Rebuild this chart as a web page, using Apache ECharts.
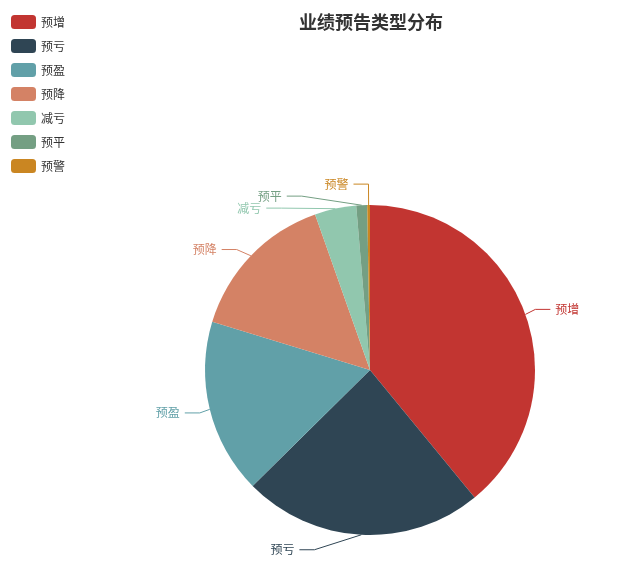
<!DOCTYPE html>
<html>
<head>
<meta charset="utf-8">
<script src="https://cdn.jsdelivr.net/npm/echarts@6/dist/echarts.min.js"></script>
<style>
html,body{margin:0;padding:0;background:#fff;}
#main{width:643px;height:580px;}
</style>
</head>
<body>
<div id="main"></div>
<script>
var categories = ['预增', '预亏', '预盈', '预降', '减亏', '预平', '预警'];
var values = [586, 353, 257, 223, 61, 16, 4];
var colors = ['#c23531', '#2f4554', '#61a0a8', '#d48265', '#91c7ae', '#749f83', '#ca8622'];

// pie geometry (layout settings)
var CX = 370, CY = 370, R = 165, LEN = 15, LEN2 = 15, DIST = 5, LABEL_H = 12, VIEW_H = 580;

// Classic (v4-style) outside-label layout computed from the data values
function classicLabelLayout() {
  var total = values.reduce(function (a, b) { return a + b; }, 0);
  var ang = Math.PI / 2;
  var items = values.map(function (v, i) {
    var span = v / total * Math.PI * 2;
    var mid = ang - span / 2;
    ang -= span;
    var dx = Math.cos(mid), dy = -Math.sin(mid);
    var x1 = CX + R * dx, y1 = CY + R * dy;
    var x2 = x1 + dx * LEN, y2 = y1 + dy * LEN;
    var x3 = x2 + (dx < 0 ? -1 : 1) * LEN2;
    return { idx: i, dx: dx, x1: x1, y1: y1, x2: x2, y2: y2, x3: x3,
             x: x3 + (dx < 0 ? -DIST : DIST), y: y2, height: LABEL_H };
  });
  function adjust(list, dir) {
    list.sort(function (a, b) { return a.y - b.y; });
    function shiftUp(end, delta) {
      for (var j = end; j >= 0; j--) {
        if (list[j].y - delta < 0) break;
        list[j].y -= delta;
        if (j > 0 && list[j].y > list[j - 1].y + list[j - 1].height) break;
      }
    }
    function shiftDown(start, end, delta) {
      for (var j = start; j < end; j++) {
        if (list[j].y + delta > VIEW_H) break;
        list[j].y += delta;
        if (j > start && j + 1 < end && list[j + 1].y > list[j].y + list[j].height) {
          shiftUp(j, delta / 2);
          return;
        }
      }
      shiftUp(end - 1, delta / 2);
    }
    var lastY = 0, len = list.length, up = [], down = [];
    for (var i = 0; i < len; i++) {
      var d = list[i].y - lastY;
      if (d < 0) shiftDown(i, len, -d);
      lastY = list[i].y + list[i].height;
    }
    for (i = 0; i < len; i++) (list[i].y >= CY ? down : up).push(list[i]);
    function changeX(arr, isDown) {
      var last = isDown ? Number.MAX_VALUE : 0;
      arr.forEach(function (it) {
        var dY = Math.abs(it.y - CY);
        var rr = R + LEN + LEN2;
        var dX = dY < R + LEN ? Math.sqrt(rr * rr - dY * dY) : Math.abs(it.x - CX);
        if (isDown && dX >= last) dX = last - 10;
        if (!isDown && dX <= last) dX = last + 10;
        it.x = CX + dX * dir;
        last = dX;
      });
    }
    changeX(up, false);
    changeX(down, true);
  }
  adjust(items.filter(function (it) { return it.x >= CX; }), 1);
  adjust(items.filter(function (it) { return it.x < CX; }), -1);
  var out = [];
  items.forEach(function (it) {
    var left = it.x < CX;
    var px3 = left ? it.x + DIST : it.x - DIST;
    var px2 = px3 + (it.x2 - it.x3);
    out[it.idx] = {
      x: it.x, y: it.y,
      align: left ? 'right' : 'left',
      verticalAlign: 'middle',
      labelLinePoints: [[it.x1, it.y1], [px2, it.y], [px3, it.y]]
    };
  });
  return out;
}
var labelPos = classicLabelLayout();

var chart = echarts.init(document.getElementById('main'));
chart.setOption({
  animation: false,
  color: colors,
  title: {
    text: '业绩预告类型分布',
    left: 366,
    textAlign: 'center',
    top: 8,
    textStyle: { fontSize: 18, fontWeight: 'bold', color: '#333', fontFamily: 'Noto Sans CJK SC' }
  },
  legend: {
    orient: 'vertical',
    left: 6,
    top: 10,
    itemWidth: 25,
    itemHeight: 14,
    itemGap: 10,
    textStyle: { fontSize: 12, color: '#333', fontFamily: 'Noto Sans CJK SC' },
    data: categories
  },
  series: [{
    type: 'pie',
    center: [CX, CY],
    radius: R,
    startAngle: 90,
    avoidLabelOverlap: false,
    label: { fontSize: 12, fontFamily: 'Noto Sans CJK SC' },
    labelLine: { show: true, length: LEN, length2: LEN2, lineStyle: { width: 1 } },
    labelLayout: function (p) { return labelPos[p.dataIndex]; },
    data: categories.map(function (c, i) {
      return { name: c, value: values[i], label: { color: colors[i] }, labelLine: { lineStyle: { color: colors[i] } } };
    })
  }]
});
</script>
</body>
</html>
